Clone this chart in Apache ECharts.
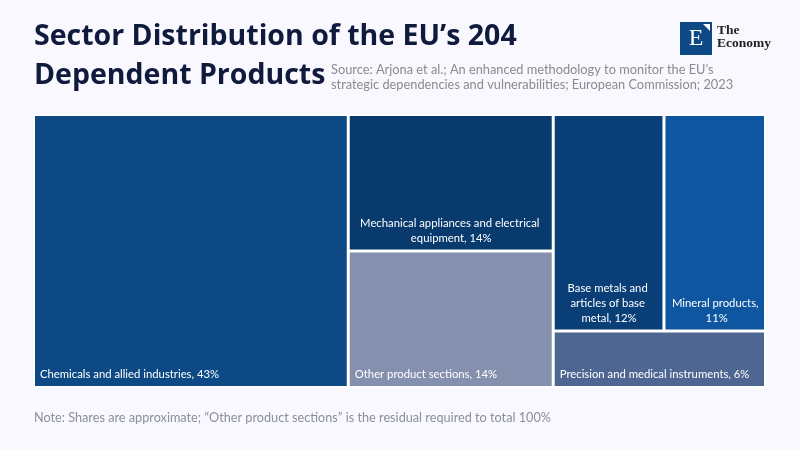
<!DOCTYPE html>
<html>
<head>
<meta charset="utf-8">
<script src="https://cdn.jsdelivr.net/npm/echarts@6/dist/echarts.min.js"></script>
<style>
  html, body { margin: 0; padding: 0; background: #f8f8fe; }
  #chart { width: 800px; height: 450px; }
</style>
</head>
<body>
<div id="chart"></div>
<script>
// sectors and shares (%) of the 204 dependent products
var sectors = [
  'Chemicals and allied industries',
  'Mechanical appliances and electrical equipment',
  'Other product sections',
  'Base metals and articles of base metal',
  'Mineral products',
  'Precision and medical instruments'
]
var shares = [43, 14, 14, 12, 11, 6]

var palette = ['#0d4a85', '#083a6d', '#8590ae', '#0a3e76', '#0e56a0', '#4e6692']
// multi-line labels are centred, one-liners sit at the left
var labelPos = ['insideBottomLeft', 'insideBottom', 'insideBottomLeft', 'insideBottom', 'insideBottom', 'insideBottomLeft']

var font = 'Lato'
var titleFont = 'bold 28.5px "Open Sans"'

var data = sectors.map(function (name, i) {
  return {
    name: name,
    value: shares[i],
    itemStyle: { color: palette[i] },
    label: { position: labelPos[i] }
  }
})

var option = {
  backgroundColor: '#f8f8fe',
  graphic: [
    { type: 'text', x: 34, y: 37, style: { text: 'Sector Distribution of the EU\u2019s 204', font: titleFont, fill: '#0f1a3d', verticalAlign: 'middle' } },
    { type: 'text', x: 34, y: 76, style: { text: 'Dependent Products', font: titleFont, fill: '#0f1a3d', verticalAlign: 'middle' } },
    { type: 'text', left: 331, top: 62, style: { text: 'Source: Arjona et al.; An enhanced methodology to monitor the EU\u2019s\nstrategic dependencies and vulnerabilities; European Commission; 2023', font: '12.8px ' + font, fill: '#8a8a90', lineHeight: 15 } },
    { type: 'text', left: 34, top: 411, style: { text: 'Note: Shares are approximate; \u201cOther product sections\u201d is the residual required to total 100%', font: '12.7px ' + font, fill: '#8a8f9e' } },
    // logo
    { type: 'rect', shape: { x: 680, y: 22, width: 32, height: 33 }, style: { fill: '#0d4a85' } },
    { type: 'polygon', shape: { points: [[703, 24], [710, 24], [710, 31]] }, style: { fill: '#fff' } },
    { type: 'text', x: 696, y: 39, style: { text: 'E', font: '24px "Liberation Serif"', fill: '#fff', align: 'center', verticalAlign: 'middle' } },
    { type: 'text', x: 717, y: 24, style: { text: 'The\nEconomy', font: 'bold 13.5px "Liberation Serif"', fill: '#222', lineHeight: 13 } }
  ],
  series: [{
    type: 'treemap',
    left: 33,
    top: 114,
    right: 34,
    bottom: 62,
    roam: false,
    nodeClick: false,
    sort: false,
    breadcrumb: { show: false },
    itemStyle: { borderColor: '#fff', borderWidth: 1, gapWidth: 1 },
    label: {
      show: true,
      formatter: '{b}, {c}%',
      color: '#fff',
      fontFamily: font,
      fontSize: 11.3,
      overflow: 'break',
      padding: [0, 4, 4, 5],
      lineHeight: 15
    },
    data: data
  }]
}

var chart = echarts.init(document.getElementById('chart'))
chart.setOption(option, true)
</script>
</body>
</html>
